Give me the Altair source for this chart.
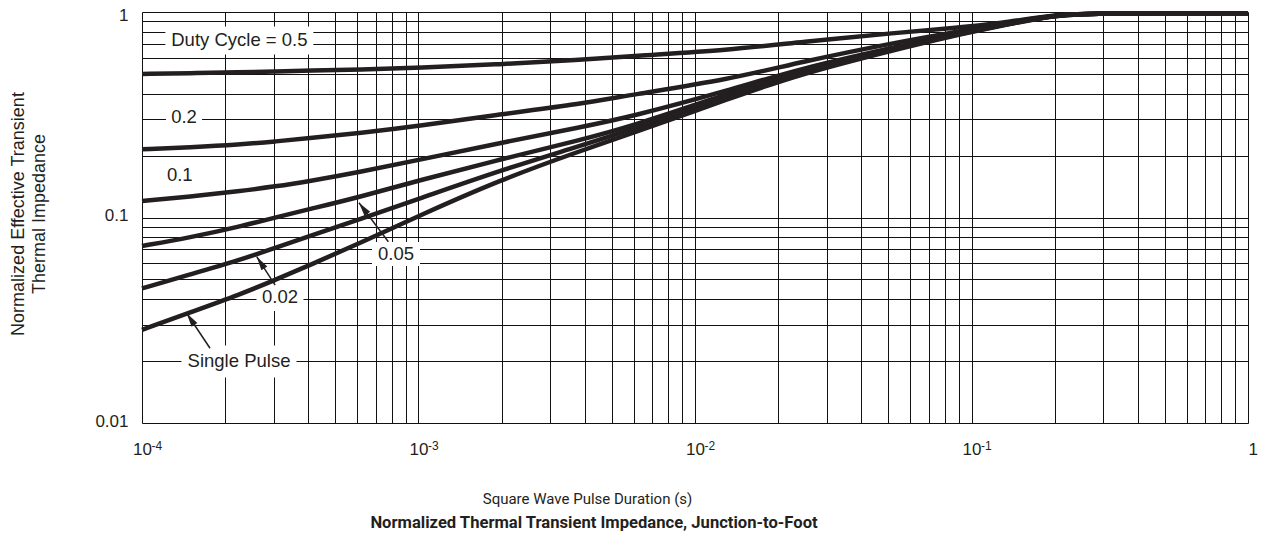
import math
import altair as alt
import pandas as pd

# ---------------- data ----------------
X = [1e-4, 1.49e-4, 2.26e-4, 3.03e-4, 4.05e-4, 6.14e-4, 1.0e-3, 1.97e-3, 3.84e-3,
     5.82e-3, 1.34e-2, 2.4e-2, 5.51e-2, 8.36e-2, 0.127, 0.204, 0.3, 1.0]
SERIES = ["0.5", "0.2", "0.1", "0.05", "0.02", "Single Pulse"]
D05 = [0.4994, 0.5033, 0.5089, 0.5135, 0.5181, 0.5251, 0.5352, 0.5566, 0.5839,
       0.6107, 0.6533, 0.7145, 0.7949, 0.8329, 0.8791, 0.9778, 0.9855, 0.9855]
D02 = [0.2147, 0.2196, 0.2265, 0.2343, 0.2436, 0.2578, 0.2788, 0.3178, 0.3567,
       0.3946, 0.4706, 0.5709, 0.7169, 0.7901, 0.8743, 0.9757, 0.9855, 0.9855]
D01 = [0.1203, 0.1263, 0.1346, 0.1415, 0.1505, 0.1665, 0.1905, 0.2304, 0.2748,
       0.3084, 0.4173, 0.5310, 0.6830, 0.7727, 0.8645, 0.9724, 0.9855, 0.9855]
D005 = [0.0727, 0.0799, 0.0904, 0.1000, 0.1100, 0.1259, 0.1514, 0.1915, 0.2382,
        0.2766, 0.4035, 0.5221, 0.6754, 0.7684, 0.8597, 0.9724, 0.9855, 0.9855]
D002 = [0.0452, 0.0528, 0.0621, 0.0711, 0.0813, 0.0983, 0.1230, 0.1693, 0.2228,
        0.2666, 0.3946, 0.5163, 0.6717, 0.7641, 0.8597, 0.9724, 0.9855, 0.9855]
SINGLE = [0.0284, 0.0345, 0.0422, 0.0497, 0.0587, 0.0751, 0.1017, 0.1522, 0.2107,
          0.2548, 0.3802, 0.4994, 0.6643, 0.7599, 0.8549, 0.9724, 0.9855, 0.9855]

LABELS = ["Duty Cycle = 0.5", "0.2", "0.1", "0.05", "0.02", "Single Pulse"]
LABEL_X = [2.25e-4, 1.419e-4, 1.37e-4, 8.29e-4, 3.155e-4, 2.243e-4]
LABEL_Y = [0.727, 0.3084, 0.161, 0.0664, 0.041, 0.01992]

ARROW_FROM_X = [1.762e-4, 3.03e-4, 7.78e-4]
ARROW_FROM_Y = [0.0231, 0.0469, 0.0762]
ARROW_TO_X = [1.451e-4, 2.6e-4, 6.09e-4]
ARROW_TO_Y = [0.0342, 0.0645, 0.118]

X_DECADES = [1e-4, 1e-3, 1e-2, 1e-1, 1.0]
GRID_X = [k * 10.0 ** e for e in range(-4, 0) for k in range(1, 10)] + [1.0]
GRID_Y = [k * 10.0 ** e for e in range(-2, 0) for k in range(1, 10)] + [1.0]

# ---------------- layout / style ----------------
W, H = 1106, 411
INK = "#231f20"
FONT = "Liberation Sans"
NARROW = "Roboto"
BOX_W = [148, 36, 36, 48, 47, 115]
BOX_H = [28, 26, 26, 24, 28, 32]

curves = pd.concat([
    pd.DataFrame({"x": X, "y": ys, "s": name})
    for name, ys in zip(SERIES, [D05, D02, D01, D005, D002, SINGLE])
])
labels = pd.DataFrame({"t": LABELS, "x": LABEL_X, "y": LABEL_Y})
arrows = pd.DataFrame({"x": ARROW_FROM_X, "y": ARROW_FROM_Y,
                       "x2": ARROW_TO_X, "y2": ARROW_TO_Y})

xs = alt.Scale(type="log", domain=[1e-4, 1], nice=False)
ys_ = alt.Scale(type="log", domain=[0.01, 1], nice=False)

is_dec = "abs(log(datum.value)/LN10 - round(log(datum.value)/LN10)) < 0.001"

x_axis = alt.Axis(
    values=GRID_X, grid=True, gridColor="#111111", gridWidth=1, gridOpacity=1,
    ticks=False, tickSize=0, domain=False, labelOverlap=False, labelFlush=False,
    labelExpr=f"{is_dec} ? (datum.value > 0.5 ? '1' : '10') : ''",
    labelAlign={"condition": {"test": "datum.value > 0.5", "value": "left"}, "value": "center"},
    labelFont=FONT, labelFontSize=17, labelColor=INK, labelPadding=18,
    title="Square Wave Pulse Duration (s)", titleFont=NARROW, titleFontSize=15,
    titleFontWeight="normal", titleColor=INK, titleX=445, titleY=68, orient="bottom",
)
y_axis = alt.Axis(
    values=GRID_Y, grid=True, gridColor="#111111", gridWidth=1, gridOpacity=1,
    ticks=False, tickSize=0, domain=False, labelOverlap=False, labelFlush=False,
    labelExpr=f"{is_dec} ? (datum.value > 0.5 ? '1' : datum.value > 0.05 ? '0.1' : '0.01') : ''",
    labelOffset={"condition": {"test": "datum.value > 0.5", "value": 3}, "value": -2},
    labelFont=FONT, labelFontSize=17, labelColor=INK, labelPadding=14,
    title=["Normalized Effective Transient", "Thermal Impedance"], titleFont=FONT,
    titleFontSize=18, titleFontWeight="normal", titleColor=INK, titleX=-119, titleY=201.5,
    titleBaseline="alphabetic", titleLineHeight=21.5, titleAngle=270,
)
sup_axis = alt.Axis(
    values=X_DECADES[:-1], grid=False, ticks=False, tickSize=0, domain=False,
    labelOverlap=False, labelFlush=False,
    labelExpr="'-' + round(-log(datum.value)/LN10)",
    labelAlign="left", labelOffset=9, labelFont=FONT, labelFontSize=12, labelColor=INK,
    labelPadding=17.5, title=None, orient="bottom",
)

layers = []

# main axes carried by an invisible layer
layers.append(
    alt.Chart(curves).mark_point(opacity=0).encode(
        x=alt.X("x:Q", scale=xs, axis=x_axis), y=alt.Y("y:Q", scale=ys_, axis=y_axis))
)

# white boxes behind labels
for i in range(len(LABELS)):
    w, h = BOX_W[i], BOX_H[i]
    r = w / h
    path = f"M{-r},-1H{r}V1H{-r}Z"
    layers.append(
        alt.Chart(labels.iloc[[i]]).mark_point(
            shape=path, size=h * h, filled=True, color="white", opacity=1, strokeWidth=0
        ).encode(x=alt.X("x:Q", scale=xs, axis=None), y=alt.Y("y:Q", scale=ys_))
    )

lines = alt.Chart(curves).mark_line(
    color=INK, strokeWidth=4.5, interpolate="basis", strokeCap="butt"
).encode(x=alt.X("x:Q", scale=xs, axis=None), y=alt.Y("y:Q", scale=ys_), detail="s:N")
layers.append(lines)

shafts = alt.Chart(arrows).mark_rule(color=INK, strokeWidth=1.5).encode(
    x=alt.X("x:Q", scale=xs, axis=None), y=alt.Y("y:Q", scale=ys_), x2="x2:Q", y2="y2:Q")
layers.append(shafts)

XD, YD = W / 4.0, H / 2.0
for i in range(len(ARROW_TO_X)):
    dx = (math.log10(ARROW_TO_X[i]) - math.log10(ARROW_FROM_X[i])) * XD
    dy = -(math.log10(ARROW_TO_Y[i]) - math.log10(ARROW_FROM_Y[i])) * YD
    ang = (math.degrees(math.atan2(dx, -dy)) + 360) % 360
    layers.append(
        alt.Chart(arrows.iloc[[i]]).mark_point(
            shape="M0,0L0.5,2L-0.5,2Z", size=196, filled=True, color=INK,
            opacity=1, strokeWidth=0, angle=ang
        ).encode(x=alt.X("x2:Q", scale=xs, axis=None), y=alt.Y("y2:Q", scale=ys_))
    )

texts = alt.Chart(labels).mark_text(
    font=FONT, fontSize=18.5, color=INK, align="center", baseline="middle"
).encode(x=alt.X("x:Q", scale=xs, axis=None), y=alt.Y("y:Q", scale=ys_), text="t:N")
layers.append(texts)

sup = alt.Chart(pd.DataFrame({"x": X_DECADES[:-1]})).mark_point(opacity=0).encode(
    x=alt.X("x:Q", scale=xs, axis=sup_axis))
layers.append(sup)

chart = alt.layer(*layers).resolve_axis(x="independent").properties(
    width=W, height=H,
    autosize=alt.AutoSizeParams(type="none"),
    padding={"left": 134, "top": 4, "right": 11, "bottom": 112},
    title=alt.TitleParams(
        "Normalized Thermal Transient Impedance, Junction-to-Foot", orient="bottom",
        font=NARROW, fontSize=16.6, fontWeight="bold", color=INK, anchor="middle",
        dx=-101, offset=9,
    ),
).configure_view(stroke="#111111", strokeWidth=1.2).configure(background="white")

chart.save("out.html", embed_options={"renderer": "svg", "actions": False})
